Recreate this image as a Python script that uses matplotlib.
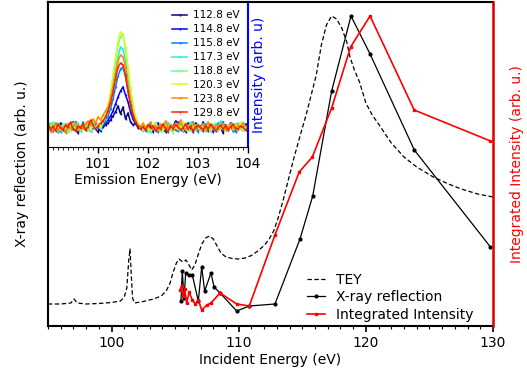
import numpy as np
from matplotlib import pyplot as plt
from matplotlib.ticker import MultipleLocator

# TEY (dashed)
tey_e = [95.0, 96.0, 96.8, 97.05, 97.3, 98.0, 99.0, 100.0, 100.7, 101.0, 101.2, 101.35,
         101.45, 101.55, 101.65, 101.8, 102.5, 103.3, 103.9, 104.3, 104.6, 104.85, 105.1,
         105.3, 105.5, 105.65, 105.85, 106.05, 106.3, 106.55, 106.8, 107.1, 107.4, 107.7,
         108.0, 108.3, 108.6, 109.0, 109.5, 110.0, 110.5, 111.0, 111.5, 112.0, 112.4,
         112.75, 113.1, 113.5, 113.9, 114.3, 114.8, 115.3, 115.7, 116.1, 116.5, 116.9,
         117.3, 117.7, 118.1, 118.5, 118.75, 119.1, 119.5, 120.0, 120.5, 121.0, 122.0,
         123.0, 124.0, 125.3, 126.5, 127.5, 128.8, 130.0]
tey_v = [22, 22, 23, 27, 23, 22, 22.5, 23.5, 25, 29, 38, 66,
         77, 51, 28, 23, 24.5, 27, 30, 35, 43, 54, 63,
         67, 65, 64, 66, 62, 56, 61, 71, 82, 88, 90,
         87, 80, 73, 69, 67.5, 67, 68, 70.5, 75, 80.5, 87,
         95, 108, 126, 146, 166, 189, 211, 231, 251, 281, 301,
         310, 307, 298, 284, 269, 256, 244, 223, 211, 202, 183,
         169, 159, 149, 142, 137, 132, 129]

# X-ray reflection (black)
xrr_e = [105.46, 105.56, 105.70, 105.83, 106.09, 106.35, 106.82, 107.09, 107.32, 107.82,
         108.06, 108.53, 109.84, 110.83, 112.85, 114.82, 115.82, 117.31, 118.83, 120.33,
         123.81, 129.8]
xrr_v = [25, 55, 28, 53, 51, 51, 25, 59, 35, 53,
         39, 33, 15, 20, 22, 87, 130, 235, 310, 272,
         176, 79]

# integrated intensity (red)
int_e = [105.40, 105.50, 105.60, 105.75, 105.90, 106.10, 106.35, 106.60, 106.82, 107.09,
         107.50, 107.82, 108.53, 109.84, 110.83, 112.85, 114.76, 115.79, 117.31, 118.80,
         120.33, 123.80, 129.80]
int_v = [36, 40, 30, 37, 23, 34, 26, 22, 26, 16,
         21, 23, 33, 22, 20, 91, 154, 169, 218, 279,
         310, 216, 185]

# inset spectra
em_e = np.round(np.arange(100.0, 104.001, 0.05), 2)
labels = ['112.8 eV', '114.8 eV', '115.8 eV', '117.3 eV', '118.8 eV', '120.3 eV', '123.8 eV', '129.8 eV']
colors = ['#00008f', '#0000ff', '#0080ff', '#20f0e0', '#70ff80', '#d0ff20', '#ff8c00', '#ff2000']
s1 = [22, 17, 24, 19, 15, 21, 18, 23, 16, 20, 25, 18, 14, 21, 19, 17, 22, 16, 20, 18, 15, 19,
      20, 22, 24, 27, 31, 35, 41, 33, 40, 28, 34, 25, 22, 24, 19, 21, 17,
      20, 16, 22, 18, 24, 17, 21, 19, 15, 23, 18, 20, 26, 17, 21, 16, 19, 24, 18, 15, 22, 20,
      17, 25, 19, 16, 21, 18, 23, 17, 20, 14, 22, 19, 24, 18, 16, 21, 20, 17, 23, 19]
s2 = [18, 23, 16, 21, 19, 24, 17, 15, 22, 20, 18, 25, 19, 16, 23, 18, 21, 17, 20, 24, 19, 16,
      22, 24, 27, 31, 36, 43, 50, 56, 60, 52, 45, 35, 28, 23, 21, 18, 20,
      17, 22, 19, 15, 21, 24, 18, 20, 16, 23, 19, 21, 17, 25, 18, 20, 15, 22, 19, 17, 24, 18,
      21, 16, 20, 23, 19, 15, 22, 18, 20, 25, 17, 19, 21, 16, 23, 18, 20, 22, 17, 19]
s3 = [21, 17, 20, 24, 18, 15, 22, 19, 23, 17, 20, 16, 22, 19, 25, 18, 21, 17, 19, 23, 20, 18,
      23, 26, 31, 38, 48, 60, 71, 78, 80, 70, 56, 42, 32, 25, 22, 19, 21,
      16, 20, 23, 18, 21, 15, 19, 22, 17, 24, 20, 18, 21, 16, 23, 19, 17, 22, 20, 25, 18, 15,
      21, 19, 23, 17, 20, 22, 16, 24, 19, 18, 21, 17, 23, 20, 15, 22, 19, 24, 18, 21]
s4 = [19, 24, 17, 21, 15, 20, 23, 18, 16, 22, 19, 21, 24, 17, 20, 18, 23, 16, 21, 19, 22, 20,
      24, 28, 35, 45, 60, 76, 90, 100, 98, 86, 68, 50, 36, 27, 22, 18, 16,
      21, 17, 15, 20, 23, 18, 16, 22, 19, 24, 17, 21, 18, 23, 20, 16, 22, 19, 25, 17, 20, 23,
      18, 21, 16, 24, 19, 22, 17, 20, 26, 18, 21, 19, 23, 17, 20, 24, 18, 22, 19, 21]
s5 = [16, 21, 25, 18, 20, 17, 22, 19, 15, 21, 24, 18, 20, 16, 19, 23, 17, 21, 25, 19, 22, 18,
      26, 31, 40, 52, 68, 86, 102, 110, 113, 98, 78, 58, 40, 29, 23, 19, 17,
      20, 15, 18, 22, 17, 21, 16, 19, 23, 18, 20, 14, 22, 19, 17, 21, 24, 18, 16, 20, 22, 19,
      17, 23, 18, 21, 15, 20, 24, 17, 19, 22, 18, 16, 21, 20, 23, 17, 19, 22, 18, 20]
s6 = [26, 19, 22, 17, 24, 20, 18, 23, 21, 16, 20, 24, 19, 22, 18, 25, 20, 17, 22, 19, 23, 21,
      27, 33, 42, 55, 72, 90, 106, 115, 112, 100, 80, 60, 42, 30, 24, 20, 18,
      22, 19, 17, 21, 24, 18, 20, 16, 22, 19, 23, 17, 20, 18, 21, 25, 19, 16, 22, 20, 18, 23,
      17, 21, 19, 24, 18, 20, 22, 17, 21, 19, 16, 23, 20, 18, 22, 19, 25, 17, 20, 18]
s7 = [20, 15, 18, 23, 17, 21, 19, 14, 22, 18, 20, 24, 17, 21, 19, 23, 26, 22, 28, 24, 30, 27,
      32, 36, 40, 48, 60, 74, 86, 92, 90, 80, 62, 46, 34, 26, 22, 20, 24,
      19, 22, 25, 18, 21, 17, 23, 20, 26, 19, 22, 18, 24, 21, 27, 19, 17, 22, 20, 24, 18, 21,
      19, 23, 17, 25, 20, 18, 22, 19, 21, 24, 17, 20, 23, 19, 18, 22, 20, 24, 21, 19]
s8 = [24, 18, 21, 16, 23, 19, 17, 22, 20, 25, 18, 16, 21, 19, 23, 17, 20, 27, 22, 18, 21, 24,
      26, 30, 36, 44, 55, 68, 80, 84, 82, 72, 56, 42, 32, 25, 21, 18, 20,
      17, 22, 19, 21, 16, 20, 18, 23, 19, 15, 21, 18, 22, 20, 17, 19, 23, 18, 21, 16, 20, 22,
      19, 17, 21, 18, 23, 20, 16, 19, 22, 18, 21, 17, 20, 23, 19, 18, 21, 20, 17, 19]
spectra = [s1, s2, s3, s4, s5, s6, s7, s8]

plt.rcParams['font.size'] = 10
fig = plt.figure(figsize=(5.27, 3.74), dpi=100)
ax = fig.add_axes([48/527, 48/374, 445/527, 324/374])
ax2 = ax.twinx()

l1, = ax.plot(tey_e, tey_v, '--', color='k', lw=0.9, dashes=(3.5, 2))
l2, = ax.plot(xrr_e, xrr_v, '-', color='k', lw=0.9, marker='.', ms=4)
l3, = ax2.plot(int_e, int_v, '-', color='#ff0000', lw=1.2, marker='s', ms=2)

ax.set_xlim(95, 130)
ax.set_ylim(0, 324)
ax2.set_ylim(0, 324)
ax.set_yticks([])
ax2.set_yticks([])
ax.xaxis.set_major_locator(MultipleLocator(10))
ax.xaxis.set_minor_locator(MultipleLocator(1))
ax.tick_params(axis='x', which='major', direction='out', length=4, width=1.2)
ax.tick_params(axis='x', which='minor', direction='out', length=2, width=0.8)
for s in ['left', 'bottom', 'top']:
    ax.spines[s].set_linewidth(1.5)
ax2.spines['right'].set_color('#dd0000')
ax2.spines['right'].set_linewidth(1.8)
for s in ['left', 'bottom', 'top']:
    ax2.spines[s].set_visible(False)
ax.set_xlabel('Incident Energy (eV)', labelpad=2)
ax.set_ylabel('X-ray reflection (arb. u.)', labelpad=14)
ax2.set_ylabel('Integrated Intensity (arb. u.)', color='#ff0000', labelpad=12)
ax2.legend([l1, l2, l3], ['TEY', 'X-ray reflection', 'Integrated Intensity'],
           loc='lower right', bbox_to_anchor=(0.985, -0.025), frameon=False,
           handlelength=1.3, labelspacing=0.25, fontsize=10)

ins = fig.add_axes([48/527, 227/374, 200/527, 145/374])
for sp, lab, c in zip(spectra, labels, colors):
    ins.plot(em_e, sp, '-', color=c, lw=1.1, marker='|', ms=1.5, label=lab)
ins.set_xlim(100, 104)
ins.set_ylim(0, 145)
ins.set_yticks([])
ins.xaxis.set_major_locator(MultipleLocator(1))
ins.xaxis.set_minor_locator(MultipleLocator(0.1))
ins.tick_params(axis='x', which='major', direction='out', length=4, width=1)
ins.tick_params(axis='x', which='minor', direction='out', length=2, width=0.6)
ins.set_xticks([101, 102, 103, 104])
ins.spines['right'].set_color('#0000ff')
ins.spines['right'].set_linewidth(1.5)
ins.spines['left'].set_linewidth(1.5)
ins.spines['top'].set_linewidth(1.5)
ins.set_xlabel('Emission Energy (eV)', labelpad=1)
ins.yaxis.set_label_position('right')
ins.set_ylabel('Intensity (arb. u)', color='#0000ff', labelpad=3)
ins.legend(loc='upper right', frameon=False, fontsize=7.5, handlelength=1.4,
           labelspacing=0.38, borderaxespad=0.4, handletextpad=0.6)

fig.savefig('out.png', dpi=100)
